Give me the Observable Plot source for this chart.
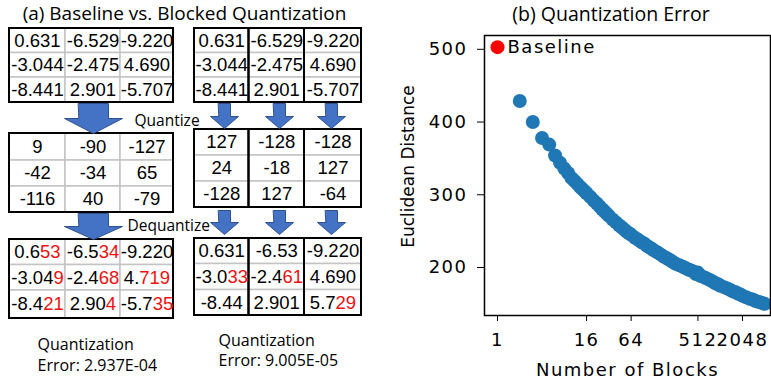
<!DOCTYPE html>
<html><head><meta charset="utf-8">
<script src="https://cdn.jsdelivr.net/npm/d3@7"></script>
<script src="https://cdn.jsdelivr.net/npm/@observablehq/plot@0.6"></script>
<style>
html,body{margin:0;padding:0;background:#fff;}
#root{position:relative;width:771px;height:383px;overflow:hidden;background:#fff;}
#panelA{position:absolute;left:0;top:0;}
#panelB{position:absolute;left:380px;top:0;}
</style></head><body><div id="root"><div id="panelA"></div><div id="panelB"></div></div>
<script>
// ---------- data ----------
const titleA = "(a) Baseline vs. Blocked Quantization";
const titleB = "(b) Quantization Error";
const stepLabels = ["Quantize", "Dequantize"];
const inputMatrix = [["0.631","-6.529","-9.220"],["-3.044","-2.475","4.690"],["-8.441","2.901","-5.707"]];
const baselineQuantized = [["9","-90","-127"],["-42","-34","65"],["-116","40","-79"]];
const blockedQuantized = [["127","-128","-128"],["24","-18","127"],["-128","127","-64"]];
// [correct digits, wrong (red) digits]
const baselineDequantized = [[["0.6","53"],["-6.5","34"],["-9.220",""]],[["-3.04","9"],["-2.4","68"],["4.","719"]],[["-8.4","21"],["2.90","4"],["-5.7","35"]]];
const blockedDequantized = [[["0.631",""],["-6.53",""],["-9.220",""]],[["-3.0","33"],["-2.4","61"],["4.690",""]],[["-8.44",""],["2.901",""],["5.7","29"]]];
const errorLabels = ["Quantization\nError: 2.937E-04", "Quantization\nError: 9.005E-05"];

const baselineBlocks = [1];
const baselineDistance = [503];
const baselineLabel = ["Baseline"];
const blockCounts = [2,3,4,5,6,7,8,9,10,11,12,13,14,15,16,
  18,20,22,24,26,28,30,32,
  36,40,44,48,52,56,60,64,
  72,80,88,96,104,112,120,128,
  144,160,176,192,208,224,240,256,
  288,320,352,384,416,448,480,512,
  544,576,
  640,704,768,832,896,960,1024,
  1152,1280,1408,1536,1664,1792,1920,2048,
  2304,2560,2816,3072,3328,3584,3840,4096];
const distances = [429,400,378,369,354,344,336,330,323,319,315,311,308,305,302,
  297,292,288,284,280,277,274,271,
  266,262,258,255,252,249,247,245,
  241,238,235,233,230,228,226,224,
  221,218,215,213,211,209,207,205,
  203,201,199,197,196,194,191,193,
  189,188,
  186,184,182,180,178,177,175,
  173,171,169,167,166,164,163,161,
  159,157,156,154,153,152,151,150];
const xTickValues = [1,16,64,512,2048];
const yTickValues = [200,300,400,500];
const xLabel = "Number of Blocks";
const yLabel = "Euclidean Distance";

// ---------- panel A layout ----------
const RED = "#ee1111";
const NUM_FONT = "'Liberation Sans Narrow','Arial Narrow','Liberation Sans',sans-serif";
const TXT_FONT = "'Open Sans','Noto Sans',sans-serif";
const leftCols = [9,65,120,173];
const rightCols = [194,248.5,304,361];
const tables = [
  {m: inputMatrix.map(r => r.map(v => [v, ""])), cols: leftCols, rows: [28,52.5,77,102], blocked: false},
  {m: inputMatrix.map(r => r.map(v => [v, ""])), cols: rightCols, rows: [28,52.5,77,102], blocked: true},
  {m: baselineQuantized.map(r => r.map(v => [v, ""])), cols: leftCols, rows: [133,160,186,212], blocked: false},
  {m: blockedQuantized.map(r => r.map(v => [v, ""])), cols: rightCols, rows: [129,155,181,207], blocked: true},
  {m: baselineDequantized, cols: leftCols, rows: [239,264.5,290,318], blocked: false},
  {m: blockedDequantized, cols: rightCols, rows: [238,263.5,289.5,315], blocked: true}
];
const cells = [], boxes = [];
tables.forEach((t) => {
  t.m.forEach((row, r) => row.forEach((v, c) => {
    cells.push({x1: t.cols[c], x2: t.cols[c+1], y1: t.rows[r], y2: t.rows[r+1], black: v[0], red: v[1]});
  }));
  if (t.blocked) {
    for (let c = 0; c < 3; c++) boxes.push({x1: t.cols[c], x2: t.cols[c+1], y1: t.rows[0], y2: t.rows[3]});
  } else boxes.push({x1: t.cols[0], x2: t.cols[3], y1: t.rows[0], y2: t.rows[3]});
});
const arrowSpecs = [
  {cx: 93, top: 103, neck: 118, tip: 133, sh: 15, hh: 29},
  {cx: 93, top: 213, neck: 226, tip: 239, sh: 15, hh: 29},
  ...[224, 279, 331].map(cx => ({cx, top: 103, neck: 116, tip: 128, sh: 6, hh: 14})),
  ...[224, 279, 331].map(cx => ({cx, top: 210, neck: 222, tip: 234, sh: 6, hh: 14}))
];
const arrowPts = arrowSpecs.flatMap((a, i) => [
  [a.cx - a.sh, a.top], [a.cx + a.sh, a.top], [a.cx + a.sh, a.neck], [a.cx + a.hh, a.neck],
  [a.cx, a.tip], [a.cx - a.hh, a.neck], [a.cx - a.sh, a.neck]
].map(([x, y]) => ({id: i, x, y})));

const chartA = Plot.plot({
  width: 380, height: 383, margin: 0,
  x: {type: "identity", axis: null},
  y: {type: "identity", axis: null},
  style: {background: "white", color: "black"},
  marks: [
    Plot.text([titleA], {x: 184, y: 13.8, fontFamily: TXT_FONT, fontSize: 19, fill: "black"}),
    Plot.rect(cells, {x1: "x1", x2: "x2", y1: "y1", y2: "y2", fill: "white", stroke: "#c4c4c4", strokeWidth: 1.5}),
    Plot.rect(boxes, {x1: "x1", x2: "x2", y1: "y1", y2: "y2", fill: "none", stroke: "black", strokeWidth: 2}),
    Plot.text(cells, {x: d => (d.x1 + d.x2) / 2, y: d => (d.y1 + d.y2) / 2, text: d => d.black + d.red,
      fontFamily: NUM_FONT, fontSize: 18.5, fill: "black"}),
    Plot.line(arrowPts, {x: "x", y: "y", z: "id", fill: "#4472c4", stroke: "#2f528f", strokeWidth: 1, curve: "linear-closed"}),
    Plot.text([stepLabels[0]], {x: 134, y: 121, textAnchor: "start", fontFamily: TXT_FONT, fontSize: 15.5, fill: "black"}),
    Plot.text([stepLabels[1]], {x: 127, y: 225.7, textAnchor: "start", fontFamily: TXT_FONT, fontSize: 15.5, fill: "black"}),
    Plot.text([errorLabels[0]], {x: 37, y: 334.6, textAnchor: "start", lineAnchor: "top", lineHeight: 1.3, fontFamily: TXT_FONT, fontSize: 16, fill: "black"}),
    Plot.text([errorLabels[1]], {x: 218, y: 330.3, textAnchor: "start", lineAnchor: "top", lineHeight: 1.3, fontFamily: TXT_FONT, fontSize: 16, fill: "black"})
  ]
});
// colour the wrong digits red
const ns = "http://www.w3.org/2000/svg";
const redCells = new Map(cells.filter(d => d.red).map(d => [d.black + d.red, d]));
chartA.querySelectorAll("text").forEach((t) => {
  const d = redCells.get(t.textContent);
  if (!d || t.children.length) return;
  t.textContent = "";
  const a = document.createElementNS(ns, "tspan"); a.textContent = d.black; t.appendChild(a);
  const b = document.createElementNS(ns, "tspan"); b.setAttribute("fill", RED); b.style.fill = RED; b.textContent = d.red; t.appendChild(b);
});
document.getElementById("panelA").appendChild(chartA);

// ---------- panel B ----------
const blue = blockCounts.map((n, i) => ({n, d: distances[i]}));
const base = baselineBlocks.map((n, i) => ({n, d: baselineDistance[i], label: baselineLabel[i]}));
const chartB = Plot.plot({
  width: 391, height: 383,
  marginLeft: 104, marginRight: 1, marginTop: 35, marginBottom: 68,
  style: {fontFamily: "'DejaVu Sans',sans-serif", fontSize: "18px", color: "black", background: "white"},
  x: {type: "log", base: 2, domain: [0.667, 4900]},
  y: {domain: [134, 519]},
  marks: [
    Plot.dot(blue, {x: "n", y: "d", r: 7, fill: "#1f77b4"}),
    Plot.dot(base, {x: "n", y: "d", r: 7, fill: "#ff0000"}),
    Plot.text(base, {x: "n", y: "d", text: "label", dx: 10, textAnchor: "start", fontSize: 18, fill: "black"}),
    Plot.frame({stroke: "black", strokeWidth: 1.5}),
    Plot.axisX({ticks: xTickValues, tickFormat: d => String(d), tickSize: 6, tickPadding: 12, fontSize: 18, label: null}),
    Plot.axisY({ticks: yTickValues, tickFormat: d => String(d), tickSize: 7, tickPadding: 10, fontSize: 18, label: null}),
    Plot.text([xLabel], {frameAnchor: "bottom", textAnchor: "middle", lineAnchor: "middle", dy: 54.3, fontSize: 18, fill: "black"}),
    Plot.text([yLabel], {frameAnchor: "left", textAnchor: "middle", lineAnchor: "middle", dx: -76, dy: -9, rotate: -90, fontSize: 17, fill: "black"}),
    Plot.text([titleB], {frameAnchor: "top", textAnchor: "middle", lineAnchor: "middle", dx: -16.5, dy: -21, fontFamily: TXT_FONT, fontSize: 19.5, fill: "black"})
  ]
});
// matplotlib-like wide glyph spacing for horizontal texts only
chartB.querySelectorAll("text").forEach((t) => {
  const s = t.textContent;
  if (s === yLabel || s === titleB) return;
  t.style.letterSpacing = "1.5px";
});
document.getElementById("panelB").appendChild(chartB);
</script></body></html>
